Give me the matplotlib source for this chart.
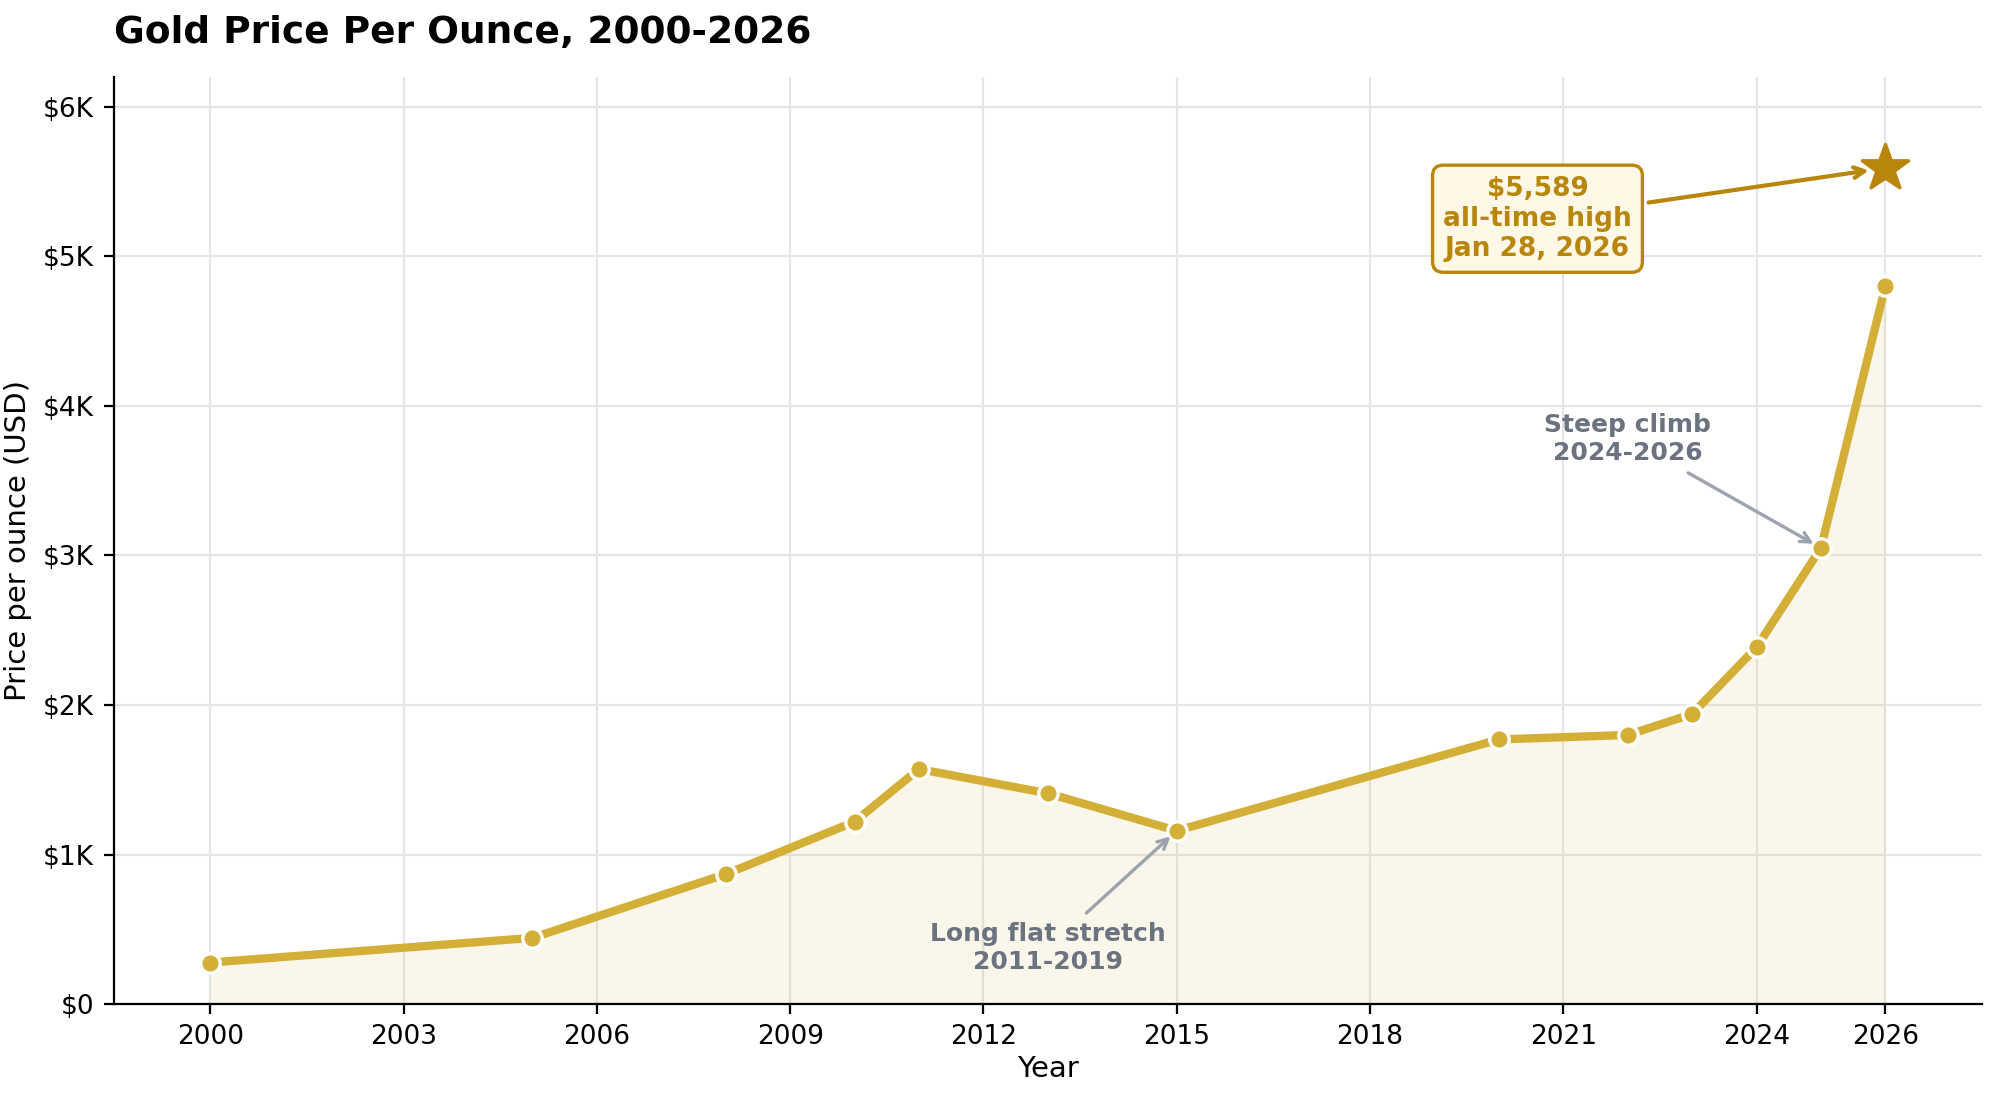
import matplotlib.pyplot as plt
import numpy as np

years = [2000, 2005, 2008, 2010, 2011, 2013, 2015, 2020, 2022, 2023, 2024, 2025, 2026]
prices = [279, 444, 870, 1220, 1572, 1410, 1160, 1770, 1800, 1940, 2386, 3050, 4800]
peak_year = 2026
peak_price = 5589
xticks = [2000, 2003, 2006, 2009, 2012, 2015, 2018, 2021, 2024, 2026]
yticks = [0, 1000, 2000, 3000, 4000, 5000, 6000]
ytick_labels = ['$0', '$1K', '$2K', '$3K', '$4K', '$5K', '$6K']

gold = '#D4AF37'
dark_gold = '#B8860B'
gray = '#6B7280'

fig, ax = plt.subplots(figsize=(9.97, 5.47), dpi=200)

ax.fill_between(years, prices, color=gold, alpha=0.1, linewidth=0)
ax.plot(years, prices, color=gold, linewidth=3, marker='o', markersize=7,
        markerfacecolor=gold, markeredgecolor='white', markeredgewidth=1.2, zorder=3)
ax.plot([peak_year], [peak_price], marker='*', markersize=18, color=dark_gold, zorder=4)

ax.annotate('$5,589\nall-time high\nJan 28, 2026', xy=(peak_year, peak_price),
            xytext=(2020.6, 5250), ha='center', va='center', fontsize=9.5,
            fontweight='bold', color=dark_gold,
            bbox=dict(boxstyle='round,pad=0.4', fc='#FFF8E7', ec=dark_gold, lw=1.2),
            arrowprops=dict(arrowstyle='->', color=dark_gold, lw=1.5, shrinkB=6))

ax.annotate('Steep climb\n2024-2026', xy=(2025, 3050), xytext=(2022, 3780),
            ha='center', va='center', fontsize=9, fontweight='bold', color=gray,
            arrowprops=dict(arrowstyle='->', color='#9CA3AF', lw=1.2, shrinkB=3))

ax.annotate('Long flat stretch\n2011-2019', xy=(2015, 1160), xytext=(2013, 375),
            ha='center', va='center', fontsize=9, fontweight='bold', color=gray,
            arrowprops=dict(arrowstyle='->', color='#9CA3AF', lw=1.2, shrinkB=3))

ax.set_xlim(1998.5, 2027.5)
ax.set_ylim(0, 6200)
ax.set_xticks(xticks)
ax.set_yticks(yticks)
ax.set_yticklabels(ytick_labels)
ax.tick_params(labelsize=9.5)
ax.grid(True, color='#E5E5E5', linewidth=0.8)
ax.set_axisbelow(True)
ax.spines['top'].set_visible(False)
ax.spines['right'].set_visible(False)

ax.set_xlabel('Year', fontsize=10.5, labelpad=2)
ax.set_ylabel('Price per ounce (USD)', fontsize=10.5)
ax.set_title('Gold Price Per Ounce, 2000-2026', fontsize=13.5, fontweight='bold',
             loc='left', pad=12)

fig.subplots_adjust(left=0.057, right=0.994, top=0.93, bottom=0.082)
fig.savefig('out.png')
